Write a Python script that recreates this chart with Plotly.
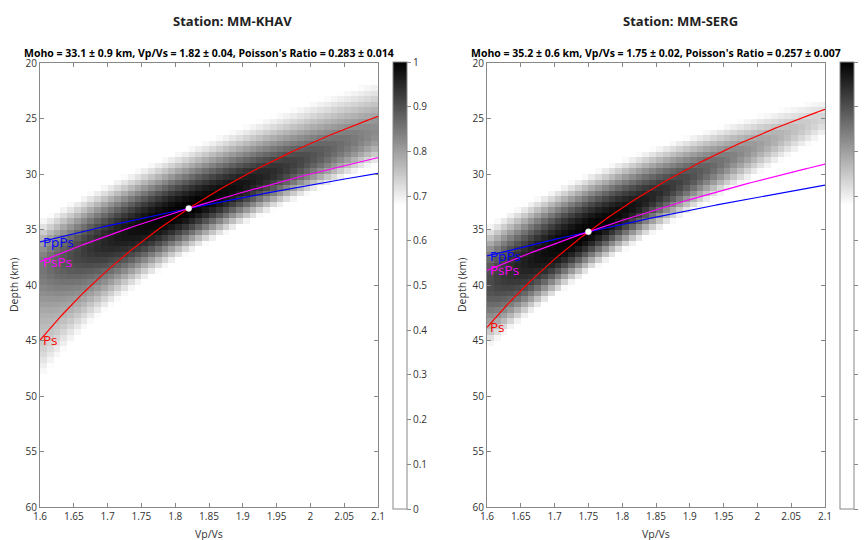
import numpy as np
import plotly.graph_objects as go

# ---- data ----
stations = ["MM-KHAV", "MM-SERG"]
moho = [33.1, 35.2]
moho_err = [0.9, 0.6]
vpvs = [1.82, 1.75]
vpvs_err = [0.04, 0.02]
poisson = [0.283, 0.257]
poisson_err = [0.014, 0.007]
vp_crust = [6.3, 6.3]          # km/s (assumed)
ray_p = 0.06                   # s/km (assumed)
phase_names = ["Ps", "PpPs", "PsPs"]
phase_colors = ["#ff0000", "#0000ff", "#ff00ff"]
# stacking weights and pulse widths (s) per station
ps_weight = [0.76, 0.60]
ppps_weight = [0.15, 0.25]
psps_weight = [0.09, 0.15]
ps_width_shallow = [1.2, 0.91]
ps_width_deep = [0.75, 0.5]
mult_width = [1.5, 2.2]
contrast = 1.25               # peak sharpness above the display floor
floor = 0.68                  # values below this display white
k_cells = np.round(1.605 + 0.01 * np.arange(50), 3)
h_cells = np.round(20.25 + 0.5 * np.arange(80), 2)
x_ticks = [1.6, 1.65, 1.7, 1.75, 1.8, 1.85, 1.9, 1.95, 2.0, 2.05, 2.1]
x_ticklabels = ["1.6", "1.65", "1.7", "1.75", "1.8", "1.85", "1.9", "1.95", "2", "2.05", "2.1"]
y_ticks = [20, 25, 30, 35, 40, 45, 50, 55, 60]
cb_ticks = [0, 0.1, 0.2, 0.3, 0.4, 0.5, 0.6, 0.7, 0.8, 0.9, 1]


def phase_factor(name, k, vp):
    qa = np.sqrt(1.0 / vp ** 2 - ray_p ** 2)
    qb = np.sqrt((k / vp) ** 2 - ray_p ** 2)
    if name == "Ps":
        return qb - qa
    if name == "PpPs":
        return qb + qa
    return 2 * qb


W, Hpx = 868, 540
OFF = 8  # page body margin
def px(x):
    return (x - OFF) / W
def py(y):
    return 1 - (y - OFF) / Hpx

plot_x = [(40, 378), (487, 825)]
cb_x = [392.5, 839.5]
title_x = [232, 680]
ytitle_x = [14, 462]
y_top, y_bot = 63, 507

fig = go.Figure()
FONT = "Open Sans, Noto Sans, sans-serif"
axis_font = dict(family=FONT, size=10, color="#333333")

for i, st in enumerate(stations):
    xa = "x" if i == 0 else "x2"
    ya = "y" if i == 0 else "y2"
    vp = vp_crust[i]
    KK, HH = np.meshgrid(k_cells, h_cells)
    # Ps term (asymmetric pulse)
    t0 = moho[i] * phase_factor("Ps", vpvs[i], vp)
    dt = HH * phase_factor("Ps", KK, vp) - t0
    sg = np.where(dt < 0, ps_width_shallow[i], ps_width_deep[i])
    stack = ps_weight[i] * np.exp(-0.5 * (dt / sg) ** 2)
    for name, w in zip(["PpPs", "PsPs"], [ppps_weight[i], psps_weight[i]]):
        t0 = moho[i] * phase_factor(name, vpvs[i], vp)
        dt = HH * phase_factor(name, KK, vp) - t0
        stack += w * np.exp(-0.5 * (dt / mult_width[i]) ** 2)
    stack = stack / stack.max()
    above = np.clip((stack - floor) / (1 - floor), 0, 1)
    stack = np.where(stack > floor, floor + (1 - floor) * above ** contrast, stack)

    fig.add_trace(go.Heatmap(
        x=k_cells, y=h_cells, z=stack, xaxis=xa, yaxis=ya,
        zmin=0, zmax=1,
        colorscale=[[0, "#ffffff"], [floor, "#ffffff"], [1.0, "#000000"]],
        hoverinfo="skip",
        colorbar=dict(
            x=px(cb_x[i]), xanchor="left", xpad=0, ypad=0,
            y=py(509), yanchor="bottom", len=(509 - 62) / Hpx, lenmode="fraction",
            thickness=14, thicknessmode="pixels",
            outlinewidth=1, outlinecolor="#888888",
            tickvals=cb_ticks, ticktext=[("%g" % v) for v in cb_ticks],
            ticks="outside", ticklen=4, tickcolor="#888888",
            tickfont=axis_font,
        ),
    ))

    k_line = np.linspace(1.6, 2.1, 201)
    for name, col in zip(phase_names, phase_colors):
        t0 = moho[i] * phase_factor(name, vpvs[i], vp)
        h_line = t0 / phase_factor(name, k_line, vp)
        fig.add_trace(go.Scatter(
            x=k_line, y=h_line, mode="lines", xaxis=xa, yaxis=ya,
            line=dict(color=col, width=1.2), hoverinfo="skip", showlegend=False))
        fig.add_annotation(
            x=1.6, y=h_line[0], xref=xa, yref=ya, text=name, showarrow=False,
            xanchor="left", yanchor="middle", xshift=1,
            font=dict(family=FONT, size=13.5, color=col))

    fig.add_trace(go.Scatter(
        x=[vpvs[i]], y=[moho[i]], mode="markers", xaxis=xa, yaxis=ya,
        marker=dict(color="white", size=6, line=dict(width=0.5, color="#dddddd")),
        hoverinfo="skip", showlegend=False))

    # titles
    fig.add_annotation(
        x=px(title_x[i]), y=py(21), xref="paper", yref="paper",
        text="<b>Station: %s</b>" % st, showarrow=False,
        xanchor="center", yanchor="middle",
        font=dict(family=FONT, size=13, color="#222222"))
    sub = ("<b>Moho = %.1f \u00b1 %.1f km, Vp/Vs = %.2f \u00b1 %s, Poisson's Ratio = %.3f \u00b1 %.3f</b>"
           % (moho[i], moho_err[i], vpvs[i], ("%g" % vpvs_err[i]), poisson[i], poisson_err[i]))
    fig.add_annotation(
        x=px((plot_x[i][0] + plot_x[i][1]) / 2), y=py(53), xref="paper", yref="paper",
        text=sub, showarrow=False, xanchor="center", yanchor="middle",
        font=dict(family=FONT, size=10.5, color="#000000"))
    fig.add_annotation(
        x=px(ytitle_x[i]), y=py((y_top + y_bot) / 2), xref="paper", yref="paper",
        text="Depth (km)", showarrow=False, textangle=-90,
        xanchor="center", yanchor="middle",
        font=dict(family=FONT, size=10.5, color="#333333"))
    fig.add_annotation(
        x=px((plot_x[i][0] + plot_x[i][1]) / 2), y=py(534), xref="paper", yref="paper",
        text="Vp/Vs", showarrow=False, xanchor="center", yanchor="middle",
        font=dict(family=FONT, size=10.5, color="#333333"))

common_x = dict(range=[1.6, 2.1], tickvals=x_ticks, ticktext=x_ticklabels,
                ticks="inside", ticklen=4, tickcolor="#888888", mirror="ticks",
                showline=True, linecolor="#888888", linewidth=1, showgrid=False,
                zeroline=False, tickfont=axis_font)
common_y = dict(range=[60, 20], tickvals=y_ticks,
                ticks="inside", ticklen=4, tickcolor="#888888", mirror="ticks",
                showline=True, linecolor="#888888", linewidth=1, showgrid=False,
                zeroline=False, tickfont=axis_font)

fig.update_layout(
    width=W, height=Hpx,
    margin=dict(l=0, r=0, t=0, b=0, autoexpand=False),
    paper_bgcolor="white", plot_bgcolor="white",
    showlegend=False,
    xaxis=dict(domain=[px(plot_x[0][0]), px(plot_x[0][1])], anchor="y", **common_x),
    yaxis=dict(domain=[py(y_bot), py(y_top)], anchor="x", **common_y),
    xaxis2=dict(domain=[px(plot_x[1][0]), px(plot_x[1][1])], anchor="y2", **common_x),
    yaxis2=dict(domain=[py(y_bot), py(y_top)], anchor="x2", **common_y),
)

fig.write_html("out.html")
